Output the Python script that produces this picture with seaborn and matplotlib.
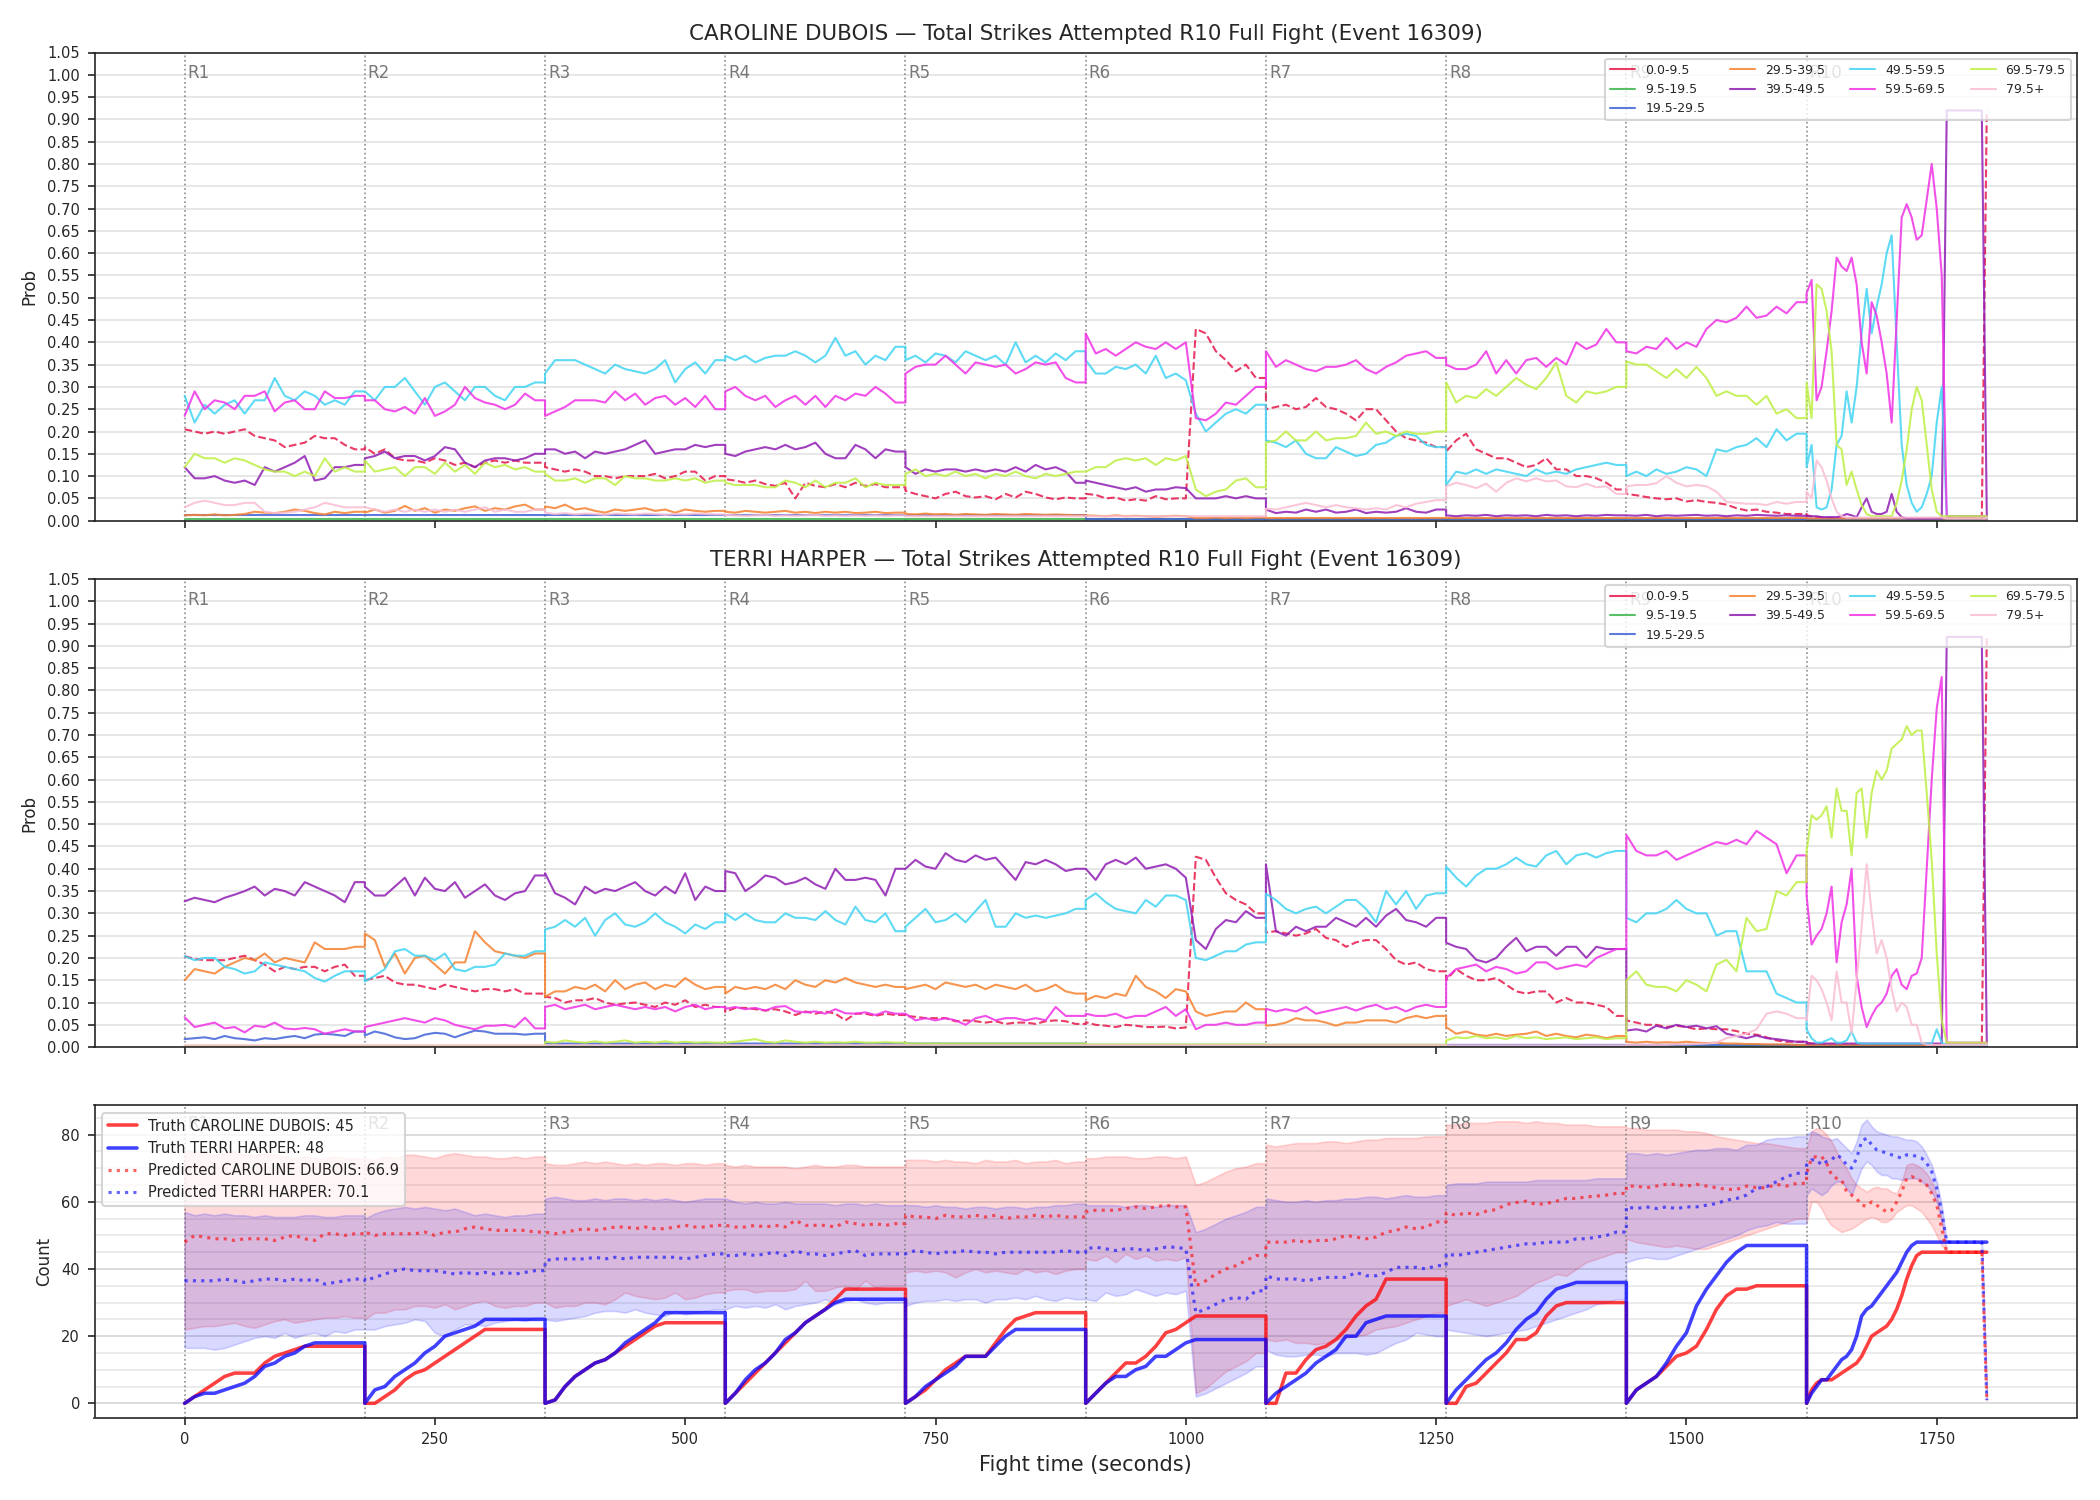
"""
Total strikes attempted - live prediction plot (R10 full fight, event 16309)
"""

import numpy as np
import pandas as pd
import matplotlib
matplotlib.use("Agg")
import matplotlib.pyplot as plt
import matplotlib.transforms as mtransforms
from matplotlib.lines import Line2D
from matplotlib.ticker import MultipleLocator
import seaborn as sns

sns.set_style("ticks")
plt.rcParams['font.family'] = ['DejaVu Sans']

# sample times: every 10 s in R1-R9, every 5 s in R10
times = np.concatenate([np.arange(0, 1620, 10), np.arange(1620, 1801, 5)])
round_starts = [0, 180, 360, 540, 720, 900, 1080, 1260, 1440, 1620]

bin_labels = ['0.0-9.5', '9.5-19.5', '19.5-29.5', '29.5-39.5', '39.5-49.5',
              '49.5-59.5', '59.5-69.5', '69.5-79.5', '79.5+']
bin_colors = ['#e6194B', '#3cb44b', '#4363d8', '#f58231', '#911eb4',
              '#42d4f4', '#f032e6', '#bfef45', '#fabed4']


def rounds(*rows):
    out = []
    for r in rows:
        out += list(r)
    return out


# ---------------- CAROLINE DUBOIS bin probabilities ----------------
cd_red = rounds(
    [0.205, 0.20, 0.195, 0.20, 0.195, 0.20, 0.205, 0.19, 0.185, 0.18, 0.165, 0.17, 0.175, 0.19, 0.185, 0.185, 0.17, 0.16],
    [0.165, 0.15, 0.16, 0.14, 0.135, 0.135, 0.13, 0.14, 0.135, 0.125, 0.13, 0.12, 0.13, 0.135, 0.13, 0.135, 0.13, 0.13],
    [0.12, 0.115, 0.11, 0.115, 0.11, 0.10, 0.10, 0.095, 0.10, 0.10, 0.10, 0.105, 0.095, 0.10, 0.11, 0.11, 0.09, 0.10],
    [0.093, 0.09, 0.085, 0.09, 0.082, 0.078, 0.085, 0.05, 0.085, 0.078, 0.075, 0.082, 0.075, 0.085, 0.078, 0.082, 0.075, 0.075],
    [0.067, 0.06, 0.055, 0.05, 0.06, 0.065, 0.055, 0.052, 0.055, 0.048, 0.06, 0.052, 0.065, 0.06, 0.052, 0.048, 0.052, 0.05],
    [0.06, 0.058, 0.05, 0.052, 0.045, 0.048, 0.045, 0.055, 0.048, 0.05, 0.05, 0.43, 0.42, 0.38, 0.36, 0.335, 0.35, 0.32],
    [0.25, 0.255, 0.26, 0.25, 0.255, 0.275, 0.255, 0.25, 0.24, 0.225, 0.25, 0.25, 0.225, 0.20, 0.185, 0.18, 0.175, 0.165],
    [0.155, 0.18, 0.195, 0.16, 0.15, 0.14, 0.14, 0.13, 0.12, 0.125, 0.14, 0.115, 0.115, 0.10, 0.10, 0.095, 0.085, 0.07],
    [0.06, 0.057, 0.053, 0.05, 0.048, 0.05, 0.043, 0.046, 0.042, 0.04, 0.036, 0.028, 0.023, 0.025, 0.02, 0.018, 0.015, 0.015],
    [0.012, 0.01, 0.008, 0.008, 0.006, 0.006, 0.005, 0.005, 0.005, 0.005, 0.005] + [0.004] * 17 + [0.005] * 8 + [0.92],
)
cd_green = [0.003] * 162 + [0.002] * 37
cd_blue = [0.012] * 90 + [0.004] * 72 + [0.003] * 37
cd_orange = rounds(
    [0.012, 0.013, 0.012, 0.014, 0.012, 0.013, 0.015, 0.02, 0.018, 0.017, 0.02, 0.025, 0.022, 0.017, 0.014, 0.02, 0.017, 0.02],
    [0.018, 0.025, 0.018, 0.022, 0.033, 0.022, 0.028, 0.018, 0.025, 0.022, 0.028, 0.032, 0.022, 0.028, 0.025, 0.032, 0.036, 0.025],
    [0.032, 0.028, 0.036, 0.025, 0.028, 0.022, 0.018, 0.025, 0.022, 0.025, 0.028, 0.022, 0.025, 0.018, 0.025, 0.022, 0.02, 0.022],
    [0.02, 0.018, 0.022, 0.02, 0.018, 0.02, 0.022, 0.018, 0.02, 0.017, 0.02, 0.018, 0.02, 0.017, 0.018, 0.02, 0.017, 0.018],
    [0.015, 0.014, 0.016, 0.014, 0.015, 0.013, 0.015, 0.014, 0.013, 0.015, 0.014, 0.013, 0.015, 0.014, 0.013, 0.014, 0.013, 0.012],
    [0.012, 0.011, 0.01, 0.012, 0.01, 0.011, 0.01, 0.009, 0.01, 0.011, 0.01, 0.006, 0.006, 0.007, 0.006, 0.007, 0.006, 0.007],
    [0.006] * 54,
    [0.005] * 37,
)
cd_purple = rounds(
    [0.12, 0.095, 0.095, 0.10, 0.09, 0.085, 0.09, 0.08, 0.12, 0.11, 0.12, 0.13, 0.145, 0.09, 0.095, 0.12, 0.12, 0.125],
    [0.14, 0.145, 0.155, 0.14, 0.145, 0.145, 0.135, 0.145, 0.165, 0.16, 0.13, 0.12, 0.135, 0.14, 0.14, 0.135, 0.14, 0.15],
    [0.16, 0.16, 0.15, 0.155, 0.14, 0.155, 0.15, 0.155, 0.16, 0.17, 0.18, 0.15, 0.155, 0.16, 0.16, 0.17, 0.165, 0.17],
    [0.15, 0.145, 0.155, 0.16, 0.165, 0.16, 0.17, 0.16, 0.165, 0.175, 0.15, 0.14, 0.14, 0.17, 0.16, 0.14, 0.16, 0.155],
    [0.12, 0.105, 0.115, 0.11, 0.115, 0.115, 0.11, 0.115, 0.11, 0.115, 0.11, 0.12, 0.11, 0.125, 0.115, 0.12, 0.11, 0.085],
    [0.09, 0.085, 0.08, 0.075, 0.07, 0.075, 0.065, 0.07, 0.07, 0.075, 0.073, 0.05, 0.05, 0.05, 0.055, 0.05, 0.055, 0.05],
    [0.025, 0.017, 0.02, 0.018, 0.025, 0.02, 0.025, 0.018, 0.02, 0.025, 0.017, 0.02, 0.018, 0.02, 0.028, 0.02, 0.018, 0.025],
    [0.012, 0.01, 0.012, 0.011, 0.013, 0.01, 0.012, 0.011, 0.012, 0.01, 0.013, 0.011, 0.012, 0.01, 0.012, 0.011, 0.013, 0.012],
    [0.012, 0.011, 0.013, 0.01, 0.012, 0.011, 0.012, 0.013, 0.011, 0.012, 0.01, 0.012, 0.011, 0.013, 0.012, 0.011, 0.012, 0.011],
    [0.01, 0.01, 0.01, 0.008, 0.008, 0.008, 0.008, 0.01, 0.015, 0.012, 0.008, 0.03, 0.05, 0.02, 0.015, 0.015, 0.02, 0.06,
     0.02, 0.008, 0.005, 0.005, 0.005, 0.005, 0.005, 0.005, 0.005, 0.005] + [0.92] * 8 + [0.01],
)
cd_cyan = rounds(
    [0.28, 0.22, 0.26, 0.24, 0.26, 0.27, 0.24, 0.27, 0.27, 0.32, 0.28, 0.27, 0.29, 0.28, 0.26, 0.27, 0.26, 0.29],
    [0.29, 0.27, 0.30, 0.30, 0.32, 0.29, 0.26, 0.30, 0.31, 0.29, 0.27, 0.30, 0.30, 0.28, 0.27, 0.30, 0.30, 0.31],
    [0.33, 0.36, 0.36, 0.36, 0.35, 0.34, 0.33, 0.35, 0.34, 0.335, 0.33, 0.34, 0.36, 0.31, 0.34, 0.355, 0.33, 0.36],
    [0.37, 0.36, 0.37, 0.355, 0.365, 0.37, 0.37, 0.38, 0.37, 0.355, 0.37, 0.41, 0.37, 0.38, 0.35, 0.37, 0.36, 0.39],
    [0.36, 0.37, 0.355, 0.375, 0.37, 0.355, 0.38, 0.37, 0.36, 0.37, 0.35, 0.40, 0.355, 0.37, 0.355, 0.375, 0.36, 0.38],
    [0.36, 0.33, 0.33, 0.345, 0.34, 0.35, 0.33, 0.37, 0.32, 0.33, 0.315, 0.24, 0.20, 0.22, 0.24, 0.25, 0.24, 0.26],
    [0.18, 0.175, 0.165, 0.18, 0.15, 0.14, 0.14, 0.165, 0.155, 0.145, 0.15, 0.17, 0.175, 0.19, 0.195, 0.19, 0.17, 0.165],
    [0.08, 0.11, 0.105, 0.115, 0.105, 0.115, 0.11, 0.105, 0.10, 0.115, 0.105, 0.11, 0.105, 0.115, 0.12, 0.125, 0.13, 0.125],
    [0.10, 0.11, 0.10, 0.115, 0.105, 0.11, 0.12, 0.115, 0.10, 0.16, 0.155, 0.165, 0.17, 0.185, 0.165, 0.205, 0.18, 0.195],
    [0.12, 0.17, 0.03, 0.025, 0.03, 0.07, 0.17, 0.19, 0.29, 0.22, 0.30, 0.42, 0.52, 0.42, 0.48, 0.53, 0.60, 0.64,
     0.40, 0.17, 0.08, 0.04, 0.02, 0.03, 0.06, 0.10, 0.22, 0.30] + [0.01] * 9,
)
cd_magenta = rounds(
    [0.235, 0.29, 0.25, 0.27, 0.265, 0.25, 0.28, 0.28, 0.29, 0.245, 0.265, 0.27, 0.25, 0.25, 0.29, 0.275, 0.275, 0.28],
    [0.27, 0.27, 0.25, 0.245, 0.255, 0.24, 0.275, 0.235, 0.245, 0.26, 0.30, 0.275, 0.265, 0.26, 0.25, 0.26, 0.285, 0.27],
    [0.235, 0.245, 0.255, 0.27, 0.27, 0.27, 0.265, 0.29, 0.27, 0.285, 0.26, 0.275, 0.28, 0.26, 0.275, 0.255, 0.28, 0.25],
    [0.29, 0.30, 0.28, 0.27, 0.28, 0.255, 0.27, 0.28, 0.26, 0.28, 0.255, 0.28, 0.27, 0.285, 0.28, 0.30, 0.285, 0.265],
    [0.33, 0.345, 0.35, 0.35, 0.37, 0.35, 0.33, 0.355, 0.35, 0.345, 0.35, 0.33, 0.34, 0.355, 0.35, 0.355, 0.32, 0.31],
    [0.42, 0.375, 0.385, 0.37, 0.385, 0.40, 0.39, 0.385, 0.40, 0.385, 0.40, 0.23, 0.225, 0.24, 0.265, 0.26, 0.28, 0.30],
    [0.38, 0.345, 0.36, 0.35, 0.34, 0.335, 0.345, 0.345, 0.35, 0.36, 0.34, 0.33, 0.345, 0.355, 0.37, 0.375, 0.38, 0.365],
    [0.35, 0.34, 0.34, 0.35, 0.38, 0.33, 0.36, 0.33, 0.36, 0.365, 0.345, 0.365, 0.35, 0.40, 0.385, 0.395, 0.43, 0.40],
    [0.38, 0.375, 0.39, 0.385, 0.41, 0.385, 0.40, 0.39, 0.43, 0.45, 0.445, 0.455, 0.48, 0.455, 0.46, 0.48, 0.465, 0.49],
    [0.51, 0.54, 0.27, 0.30, 0.38, 0.47, 0.59, 0.57, 0.56, 0.59, 0.53, 0.40, 0.33, 0.49, 0.46, 0.40, 0.33, 0.22,
     0.45, 0.68, 0.71, 0.68, 0.63, 0.64, 0.72, 0.80, 0.70, 0.55] + [0.01] * 9,
)
cd_lime = rounds(
    [0.12, 0.15, 0.14, 0.14, 0.13, 0.14, 0.135, 0.125, 0.115, 0.11, 0.11, 0.10, 0.11, 0.10, 0.14, 0.11, 0.12, 0.11],
    [0.135, 0.11, 0.115, 0.12, 0.10, 0.12, 0.12, 0.105, 0.13, 0.11, 0.125, 0.105, 0.13, 0.12, 0.125, 0.115, 0.12, 0.11],
    [0.105, 0.09, 0.09, 0.095, 0.085, 0.095, 0.095, 0.08, 0.10, 0.095, 0.095, 0.09, 0.09, 0.095, 0.09, 0.095, 0.085, 0.09],
    [0.085, 0.08, 0.08, 0.08, 0.075, 0.075, 0.09, 0.085, 0.075, 0.09, 0.075, 0.085, 0.085, 0.095, 0.075, 0.085, 0.08, 0.08],
    [0.105, 0.115, 0.10, 0.105, 0.10, 0.11, 0.10, 0.105, 0.095, 0.105, 0.10, 0.11, 0.10, 0.095, 0.105, 0.10, 0.105, 0.11],
    [0.11, 0.12, 0.12, 0.135, 0.14, 0.135, 0.14, 0.125, 0.14, 0.135, 0.145, 0.07, 0.055, 0.065, 0.07, 0.09, 0.095, 0.075],
    [0.175, 0.18, 0.20, 0.18, 0.18, 0.20, 0.18, 0.185, 0.185, 0.19, 0.22, 0.195, 0.20, 0.19, 0.20, 0.195, 0.195, 0.20],
    [0.31, 0.265, 0.28, 0.275, 0.295, 0.28, 0.30, 0.32, 0.305, 0.295, 0.32, 0.355, 0.28, 0.265, 0.29, 0.285, 0.29, 0.30],
    [0.357, 0.35, 0.35, 0.335, 0.32, 0.34, 0.32, 0.345, 0.32, 0.28, 0.29, 0.28, 0.28, 0.26, 0.28, 0.24, 0.25, 0.23],
    [0.31, 0.23, 0.53, 0.52, 0.47, 0.38, 0.17, 0.16, 0.08, 0.11, 0.07, 0.035, 0.015, 0.01, 0.01, 0.01, 0.01, 0.01,
     0.04, 0.09, 0.16, 0.25, 0.30, 0.27, 0.17, 0.07, 0.02, 0.01] + [0.01] * 9,
)
cd_pink = rounds(
    [0.03, 0.04, 0.045, 0.04, 0.035, 0.035, 0.04, 0.04, 0.02, 0.017, 0.018, 0.02, 0.025, 0.03, 0.04, 0.035, 0.03, 0.03],
    [0.03, 0.025, 0.02, 0.025, 0.02, 0.025, 0.02, 0.025, 0.02, 0.025, 0.02, 0.025, 0.03, 0.02, 0.025, 0.02, 0.02, 0.025],
    [0.018, 0.015, 0.017, 0.014, 0.016, 0.015, 0.013, 0.016, 0.015, 0.014, 0.016, 0.015, 0.013, 0.015, 0.014, 0.016, 0.015, 0.014],
    [0.013, 0.012, 0.011, 0.012, 0.013, 0.011, 0.012, 0.011, 0.012, 0.013, 0.011, 0.012, 0.011, 0.012, 0.011, 0.012, 0.011, 0.012],
    [0.01] * 18,
    [0.01] * 18,
    [0.027, 0.025, 0.03, 0.035, 0.04, 0.035, 0.03, 0.035, 0.03, 0.028, 0.025, 0.028, 0.025, 0.035, 0.03, 0.038, 0.042, 0.046],
    [0.077, 0.085, 0.08, 0.073, 0.083, 0.065, 0.085, 0.095, 0.088, 0.095, 0.088, 0.09, 0.077, 0.075, 0.083, 0.075, 0.077, 0.06],
    [0.077, 0.08, 0.08, 0.084, 0.10, 0.085, 0.077, 0.08, 0.077, 0.065, 0.042, 0.04, 0.038, 0.038, 0.035, 0.042, 0.038, 0.042],
    [0.065, 0.05, 0.135, 0.12, 0.09, 0.05, 0.02, 0.01] + [0.007] * 20 + [0.005] * 9,
)

# ---------------- TERRI HARPER bin probabilities ----------------
th_red = rounds(
    [0.204, 0.198, 0.195, 0.195, 0.195, 0.20, 0.205, 0.195, 0.185, 0.17, 0.18, 0.175, 0.18, 0.18, 0.17, 0.18, 0.185, 0.16],
    [0.15, 0.155, 0.16, 0.145, 0.14, 0.14, 0.135, 0.13, 0.14, 0.135, 0.13, 0.125, 0.13, 0.13, 0.125, 0.13, 0.12, 0.12],
    [0.113, 0.11, 0.10, 0.105, 0.105, 0.11, 0.10, 0.095, 0.098, 0.10, 0.095, 0.09, 0.10, 0.095, 0.105, 0.09, 0.095, 0.09],
    [0.079, 0.088, 0.088, 0.085, 0.082, 0.085, 0.08, 0.072, 0.08, 0.075, 0.08, 0.075, 0.06, 0.075, 0.075, 0.07, 0.075, 0.072],
    [0.07, 0.068, 0.065, 0.065, 0.065, 0.058, 0.06, 0.058, 0.055, 0.058, 0.052, 0.055, 0.055, 0.052, 0.058, 0.06, 0.058, 0.052],
    [0.056, 0.05, 0.048, 0.045, 0.05, 0.048, 0.045, 0.045, 0.046, 0.042, 0.044, 0.427, 0.42, 0.38, 0.345, 0.33, 0.32, 0.30],
    [0.257, 0.26, 0.255, 0.25, 0.255, 0.265, 0.245, 0.24, 0.225, 0.235, 0.24, 0.24, 0.22, 0.195, 0.185, 0.19, 0.175, 0.17],
    [0.15, 0.175, 0.16, 0.15, 0.15, 0.155, 0.14, 0.125, 0.12, 0.125, 0.125, 0.10, 0.11, 0.10, 0.10, 0.095, 0.09, 0.07],
    [0.06, 0.055, 0.05, 0.05, 0.045, 0.048, 0.045, 0.04, 0.042, 0.04, 0.04, 0.036, 0.03, 0.028, 0.022, 0.015, 0.012, 0.012],
    [0.01, 0.008, 0.007, 0.006, 0.006, 0.005] + [0.004] * 22 + [0.005] * 8 + [0.92],
)
th_green = [0.003] * 199
th_blue = rounds(
    [0.018, 0.02, 0.022, 0.018, 0.025, 0.02, 0.018, 0.015, 0.02, 0.018, 0.022, 0.025, 0.02, 0.028, 0.03, 0.028, 0.025, 0.035],
    [0.026, 0.035, 0.03, 0.022, 0.018, 0.02, 0.028, 0.032, 0.03, 0.022, 0.03, 0.037, 0.035, 0.03, 0.03, 0.03, 0.028, 0.03],
    [0.008] * 54,
    [0.005] * 72,
    [0.003] * 37,
)
th_orange = rounds(
    [0.15, 0.175, 0.17, 0.165, 0.18, 0.19, 0.20, 0.195, 0.21, 0.19, 0.20, 0.195, 0.19, 0.235, 0.22, 0.22, 0.22, 0.225],
    [0.255, 0.24, 0.18, 0.21, 0.165, 0.20, 0.205, 0.185, 0.165, 0.19, 0.19, 0.26, 0.235, 0.215, 0.21, 0.205, 0.20, 0.21],
    [0.113, 0.125, 0.125, 0.135, 0.13, 0.14, 0.125, 0.15, 0.13, 0.14, 0.145, 0.13, 0.14, 0.135, 0.155, 0.14, 0.13, 0.135],
    [0.12, 0.135, 0.13, 0.135, 0.13, 0.14, 0.13, 0.15, 0.14, 0.135, 0.15, 0.145, 0.155, 0.145, 0.14, 0.135, 0.14, 0.135],
    [0.13, 0.135, 0.14, 0.13, 0.145, 0.14, 0.135, 0.14, 0.13, 0.14, 0.135, 0.13, 0.14, 0.125, 0.13, 0.14, 0.125, 0.12],
    [0.105, 0.115, 0.11, 0.12, 0.115, 0.16, 0.135, 0.125, 0.11, 0.13, 0.125, 0.08, 0.07, 0.075, 0.08, 0.08, 0.10, 0.085],
    [0.048, 0.05, 0.055, 0.065, 0.06, 0.06, 0.055, 0.048, 0.055, 0.055, 0.06, 0.06, 0.06, 0.055, 0.065, 0.07, 0.065, 0.07],
    [0.045, 0.03, 0.035, 0.028, 0.025, 0.03, 0.025, 0.028, 0.03, 0.035, 0.025, 0.03, 0.025, 0.022, 0.028, 0.025, 0.02, 0.025],
    [0.012, 0.01, 0.012, 0.01, 0.011, 0.01, 0.012, 0.01, 0.009, 0.01, 0.008, 0.008, 0.007, 0.007, 0.006, 0.006, 0.006, 0.005],
    [0.005] * 37,
)
th_purple = rounds(
    [0.327, 0.335, 0.33, 0.325, 0.335, 0.342, 0.35, 0.36, 0.34, 0.355, 0.35, 0.34, 0.37, 0.36, 0.35, 0.34, 0.325, 0.37],
    [0.36, 0.34, 0.34, 0.36, 0.38, 0.34, 0.38, 0.355, 0.35, 0.37, 0.335, 0.35, 0.365, 0.34, 0.33, 0.345, 0.35, 0.385],
    [0.39, 0.345, 0.335, 0.32, 0.36, 0.345, 0.355, 0.35, 0.36, 0.37, 0.35, 0.34, 0.36, 0.345, 0.39, 0.33, 0.36, 0.35],
    [0.395, 0.39, 0.35, 0.365, 0.385, 0.38, 0.365, 0.37, 0.38, 0.365, 0.355, 0.40, 0.375, 0.375, 0.38, 0.375, 0.34, 0.40],
    [0.40, 0.42, 0.405, 0.40, 0.435, 0.42, 0.415, 0.43, 0.42, 0.425, 0.40, 0.375, 0.415, 0.41, 0.42, 0.41, 0.395, 0.40],
    [0.40, 0.375, 0.41, 0.42, 0.41, 0.425, 0.40, 0.405, 0.41, 0.40, 0.38, 0.24, 0.22, 0.265, 0.285, 0.28, 0.305, 0.29],
    [0.41, 0.26, 0.25, 0.27, 0.26, 0.27, 0.27, 0.29, 0.28, 0.27, 0.29, 0.27, 0.295, 0.31, 0.285, 0.28, 0.27, 0.29],
    [0.234, 0.225, 0.22, 0.196, 0.19, 0.20, 0.225, 0.245, 0.215, 0.225, 0.225, 0.205, 0.225, 0.225, 0.20, 0.225, 0.22, 0.22],
    [0.037, 0.04, 0.035, 0.048, 0.042, 0.05, 0.045, 0.048, 0.042, 0.047, 0.03, 0.025, 0.02, 0.026, 0.02, 0.018, 0.015, 0.012],
    [0.008] * 28 + [0.92] * 8 + [0.01],
)
th_cyan = rounds(
    [0.204, 0.195, 0.20, 0.20, 0.18, 0.175, 0.165, 0.17, 0.19, 0.185, 0.18, 0.175, 0.17, 0.155, 0.147, 0.16, 0.17, 0.17],
    [0.147, 0.16, 0.175, 0.215, 0.22, 0.205, 0.205, 0.195, 0.21, 0.175, 0.17, 0.18, 0.18, 0.185, 0.21, 0.205, 0.205, 0.215],
    [0.264, 0.27, 0.285, 0.27, 0.29, 0.25, 0.285, 0.30, 0.275, 0.27, 0.28, 0.30, 0.28, 0.27, 0.255, 0.275, 0.265, 0.28],
    [0.30, 0.285, 0.30, 0.285, 0.28, 0.28, 0.30, 0.29, 0.29, 0.285, 0.305, 0.285, 0.275, 0.315, 0.285, 0.28, 0.30, 0.26],
    [0.27, 0.29, 0.31, 0.28, 0.285, 0.30, 0.28, 0.305, 0.33, 0.27, 0.27, 0.30, 0.29, 0.295, 0.29, 0.295, 0.30, 0.31],
    [0.33, 0.345, 0.325, 0.31, 0.305, 0.30, 0.33, 0.315, 0.34, 0.34, 0.33, 0.20, 0.195, 0.205, 0.215, 0.215, 0.23, 0.235],
    [0.344, 0.33, 0.31, 0.30, 0.31, 0.315, 0.30, 0.315, 0.33, 0.33, 0.31, 0.28, 0.35, 0.32, 0.35, 0.31, 0.34, 0.345],
    [0.405, 0.38, 0.36, 0.385, 0.40, 0.40, 0.41, 0.425, 0.41, 0.405, 0.43, 0.44, 0.41, 0.43, 0.435, 0.425, 0.435, 0.44],
    [0.29, 0.28, 0.30, 0.30, 0.31, 0.33, 0.31, 0.30, 0.30, 0.25, 0.26, 0.26, 0.17, 0.17, 0.17, 0.12, 0.11, 0.10],
    [0.04, 0.02, 0.01, 0.01, 0.015, 0.02, 0.01, 0.01, 0.015, 0.035, 0.01] + [0.008] * 15 + [0.04, 0.01] + [0.005] * 9,
)
th_magenta = rounds(
    [0.067, 0.045, 0.05, 0.055, 0.042, 0.045, 0.033, 0.048, 0.045, 0.055, 0.042, 0.04, 0.043, 0.04, 0.03, 0.035, 0.04, 0.035],
    [0.045, 0.05, 0.055, 0.06, 0.065, 0.06, 0.055, 0.065, 0.06, 0.05, 0.045, 0.04, 0.048, 0.048, 0.05, 0.045, 0.066, 0.042],
    [0.09, 0.095, 0.085, 0.09, 0.095, 0.085, 0.09, 0.095, 0.09, 0.085, 0.09, 0.085, 0.09, 0.08, 0.09, 0.095, 0.085, 0.09],
    [0.086, 0.09, 0.085, 0.088, 0.082, 0.09, 0.092, 0.08, 0.078, 0.08, 0.075, 0.085, 0.076, 0.075, 0.078, 0.072, 0.08, 0.075],
    [0.075, 0.06, 0.065, 0.06, 0.065, 0.06, 0.05, 0.065, 0.07, 0.06, 0.065, 0.065, 0.06, 0.065, 0.06, 0.09, 0.07, 0.07],
    [0.075, 0.07, 0.07, 0.075, 0.065, 0.07, 0.07, 0.08, 0.09, 0.07, 0.085, 0.04, 0.05, 0.05, 0.055, 0.05, 0.05, 0.055],
    [0.086, 0.08, 0.085, 0.08, 0.09, 0.075, 0.08, 0.085, 0.09, 0.082, 0.09, 0.095, 0.085, 0.09, 0.08, 0.09, 0.095, 0.09],
    [0.155, 0.175, 0.18, 0.185, 0.17, 0.18, 0.175, 0.165, 0.17, 0.19, 0.19, 0.175, 0.18, 0.185, 0.18, 0.20, 0.21, 0.22],
    [0.476, 0.44, 0.43, 0.43, 0.44, 0.42, 0.43, 0.44, 0.45, 0.46, 0.455, 0.465, 0.455, 0.485, 0.47, 0.455, 0.39, 0.43],
    [0.34, 0.23, 0.25, 0.265, 0.30, 0.36, 0.19, 0.28, 0.32, 0.40, 0.16, 0.09, 0.045, 0.07, 0.09, 0.10, 0.12, 0.16,
     0.175, 0.14, 0.13, 0.16, 0.165, 0.20, 0.40, 0.60, 0.76, 0.83] + [0.01] * 9,
)
th_lime = rounds(
    [0.003] * 36,
    [0.012, 0.01, 0.015, 0.012, 0.01, 0.013, 0.01, 0.012, 0.015, 0.01, 0.012, 0.01, 0.013, 0.01, 0.012, 0.01, 0.011, 0.01],
    [0.01, 0.012, 0.015, 0.018, 0.012, 0.01, 0.015, 0.012, 0.01, 0.012, 0.01, 0.011, 0.01, 0.012, 0.01, 0.01, 0.011, 0.01],
    [0.008] * 18,
    [0.006] * 18,
    [0.005] * 18,
    [0.015, 0.022, 0.02, 0.025, 0.02, 0.022, 0.018, 0.025, 0.02, 0.022, 0.018, 0.02, 0.022, 0.018, 0.02, 0.022, 0.018, 0.02],
    [0.15, 0.17, 0.14, 0.135, 0.135, 0.125, 0.15, 0.14, 0.125, 0.185, 0.196, 0.17, 0.29, 0.26, 0.265, 0.35, 0.34, 0.37],
    [0.44, 0.52, 0.51, 0.52, 0.54, 0.47, 0.58, 0.53, 0.53, 0.43, 0.57, 0.58, 0.47, 0.57, 0.62, 0.60, 0.62, 0.67,
     0.68, 0.69, 0.72, 0.70, 0.71, 0.71, 0.57, 0.42, 0.21, 0.06] + [0.01] * 9,
)
th_pink = rounds(
    [0.004] * 144,
    [0.005, 0.005, 0.005, 0.005, 0.005, 0.006, 0.006, 0.007, 0.008, 0.01, 0.02, 0.025, 0.03, 0.04, 0.075, 0.08, 0.075, 0.065],
    [0.06, 0.16, 0.15, 0.13, 0.10, 0.06, 0.17, 0.10, 0.10, 0.03, 0.15, 0.27, 0.41, 0.30, 0.21, 0.24, 0.20, 0.13,
     0.08, 0.10, 0.09, 0.05, 0.05, 0.01, 0.005, 0.005, 0.005, 0.005] + [0.005] * 9,
)

# ---------------- counts (bottom panel) ----------------
truth_cd = rounds(
    [0, 2, 4, 6, 8, 9, 9, 9, 12, 14, 15, 16, 17, 17, 17, 17, 17, 17],
    [0, 0, 2, 4, 7, 9, 10, 12, 14, 16, 18, 20, 22, 22, 22, 22, 22, 22],
    [0, 1, 5, 8, 10, 12, 13, 15, 17, 19, 21, 23, 24, 24, 24, 24, 24, 24],
    [0, 3, 6, 9, 12, 15, 18, 21, 24, 26, 28, 31, 34, 34, 34, 34, 34, 34],
    [0, 2, 4, 7, 10, 12, 14, 14, 14, 18, 22, 25, 26, 27, 27, 27, 27, 27],
    [0, 3, 6, 9, 12, 12, 14, 17, 21, 22, 24, 26, 26, 26, 26, 26, 26, 26],
    [0, 0, 9, 9, 13, 16, 17, 19, 22, 26, 29, 31, 37, 37, 37, 37, 37, 37],
    [0, 0, 5, 6, 9, 12, 15, 19, 19, 21, 26, 29, 30, 30, 30, 30, 30, 30],
    [0, 4, 6, 8, 11, 14, 15, 17, 22, 28, 32, 34, 34, 35, 35, 35, 35, 35],
    [0, 4, 6, 7, 7, 7, 8, 9, 10, 11, 12, 14, 17, 20, 21, 22, 23, 25, 28, 32, 37, 41, 44, 45] + [45] * 13,
)
truth_th = rounds(
    [0, 2, 3, 3, 4, 5, 6, 8, 11, 12, 14, 15, 17, 18, 18, 18, 18, 18],
    [0, 4, 5, 8, 10, 12, 15, 17, 20, 21, 22, 23, 25, 25, 25, 25, 25, 25],
    [0, 1, 5, 8, 10, 12, 13, 15, 18, 20, 22, 24, 27, 27, 27, 27, 27, 27],
    [0, 3, 7, 10, 12, 15, 19, 21, 24, 26, 28, 30, 31, 31, 31, 31, 31, 31],
    [0, 2, 5, 7, 9, 11, 14, 14, 14, 17, 20, 22, 22, 22, 22, 22, 22, 22],
    [0, 3, 6, 8, 8, 10, 11, 14, 14, 16, 18, 19, 19, 19, 19, 19, 19, 19],
    [0, 3, 5, 7, 9, 12, 14, 16, 20, 20, 24, 25, 26, 26, 26, 26, 26, 26],
    [0, 4, 7, 10, 13, 15, 18, 22, 25, 27, 31, 34, 35, 36, 36, 36, 36, 36],
    [0, 4, 6, 8, 12, 17, 21, 29, 34, 38, 42, 45, 47, 47, 47, 47, 47, 47],
    [0, 3, 5, 7, 7, 9, 11, 13, 14, 16, 20, 26, 28, 29, 31, 33, 35, 37, 39, 42, 45, 47, 48] + [48] * 14,
)
pred_cd = rounds(
    [48, 50, 49.5, 49, 49, 48.5, 49, 49, 49, 48.5, 49.5, 50, 49, 48.5, 50.5, 50.5, 50, 50.5],
    [51, 50, 50.5, 50.5, 50.5, 50.5, 51, 50, 51, 51, 52, 52.5, 52, 51.5, 51.5, 51.5, 51.5, 51],
    [51, 50.5, 51, 51.5, 52, 51.5, 52, 52.5, 52.5, 52, 52.5, 52, 52, 52.5, 53, 52.5, 52.5, 53],
    [53, 52.5, 52.5, 53, 52.5, 53, 52.5, 54.5, 53, 53, 53, 52.5, 54, 53.5, 53, 53.5, 53, 53.5],
    [56, 55.5, 55.5, 55, 56, 55.5, 55.5, 56, 55.5, 56, 55, 55.5, 55.5, 56, 55.5, 56, 55.5, 55.5],
    [57, 57.5, 57.5, 57.5, 58, 58.5, 58, 58.5, 59, 58.5, 58.5, 35, 36.5, 38.5, 40, 41, 42.5, 44],
    [48, 48, 48, 48.5, 48, 48.5, 48.5, 49, 50, 49.5, 49, 49.5, 51, 51.5, 52.5, 52, 52.5, 54],
    [56.7, 56, 56.7, 56.2, 57.2, 57.7, 59.2, 59.8, 60.2, 59.2, 59.5, 60.2, 61, 61, 61.5, 61.7, 62, 62.5],
    [64.7, 64.7, 64.2, 64.7, 65.2, 65.2, 64.7, 65.2, 64.7, 64.2, 63.7, 63.7, 64.7, 64.2, 64.2, 65.2, 64.7, 65.5],
    [68.5, 73, 73.5, 73.5, 71.5, 68, 67, 66.5, 63, 62, 61, 59, 58.7, 60, 59, 58, 57, 57.5,
     60, 63, 67, 67.5, 67, 66, 65, 62.5, 59, 52] + [45] * 8 + [1],
)
pred_th = rounds(
    [36.5, 36.5, 36.5, 36.5, 37, 36.5, 36, 36.5, 37, 37, 36.5, 37, 36.5, 37, 35.5, 36, 36.5, 37],
    [36.5, 37.5, 38.5, 39.5, 40, 39.5, 39.5, 39.5, 39, 38.5, 39, 38.5, 39, 38.5, 39, 38.5, 39, 39.5],
    [42.5, 43, 43, 43, 43, 43.5, 43, 43.5, 43, 43.5, 43.5, 43.5, 43.5, 43.5, 43, 43.5, 44, 44.5],
    [44, 44, 44.5, 44, 44.5, 45, 44, 45.5, 44.5, 44.5, 44, 44.5, 45, 45.5, 44, 44.5, 44.5, 44.5],
    [44.5, 45.5, 45, 44.5, 45, 45, 45.5, 45, 45, 44.5, 45, 45, 45, 45, 45, 45, 45.5, 45],
    [46, 46.5, 46, 45.5, 46, 46, 45.5, 46, 46.5, 46.5, 46, 27, 28, 29.5, 31, 31.5, 31, 33.5],
    [38, 37, 37, 37, 36.5, 37, 37.5, 37.5, 37.5, 39, 38, 38, 39, 40.5, 40.5, 40.5, 40, 41],
    [44.5, 44, 44.5, 45, 45.5, 46, 46.5, 47, 47.5, 47.5, 48, 48, 48, 49, 49, 49.5, 50, 51],
    [58.5, 58, 58.5, 58, 58.5, 58, 58.5, 58.5, 59, 59.5, 60.5, 61, 62, 64, 64.5, 66, 67.5, 68.5],
    [71, 72.5, 72.5, 71, 72, 72.5, 74, 73, 71, 70, 73, 78, 79, 77, 75.5, 75, 74.5, 74,
     73.5, 73, 74, 74, 73.5, 73, 71.5, 69, 64, 57] + [48] * 8 + [1],
)
hi_cd = rounds(
    [75, 75, 74.5, 74, 74.5, 75, 74, 74, 74.5, 74, 73.5, 73, 73.5, 73, 73, 73.5, 73, 73],
    [73, 72.5, 73.5, 73, 74, 74, 73.5, 73, 74, 74.5, 74, 73.5, 73.5, 73, 73, 73.5, 73, 73.5],
    [71.5, 71, 71, 71.5, 72, 71.5, 72, 71.5, 71, 71.5, 71, 71.5, 71.5, 71, 71.5, 71.5, 71, 71.5],
    [71, 70.5, 71, 70.5, 70.5, 70.5, 70.5, 70, 70.5, 71, 70.5, 70.5, 71, 71, 70.5, 70.5, 70.5, 70.5],
    [72.5, 72.5, 72.5, 72, 72.5, 72, 72, 71.5, 72.5, 72, 72, 72.5, 71.5, 72, 72, 72.5, 71.5, 72],
    [73, 73, 73.5, 73.5, 73.5, 73, 73, 73.5, 73.5, 73, 73.5, 65, 66, 67.5, 69, 70, 70.5, 71.5],
    [77, 76.5, 77, 77.5, 77.5, 77.5, 78, 78, 77.5, 78, 78.5, 78.5, 79, 79, 79, 79, 79.5, 79.5],
    [83, 83, 83.5, 83.5, 83.5, 84, 84, 84, 83.5, 84, 83.5, 83.5, 83, 83, 83, 82.5, 82.5, 82.5],
    [82, 82, 81.5, 81.5, 81.5, 81.5, 81, 81, 80.5, 79.5, 79, 78.5, 78, 77.5, 77.5, 77, 76.5, 76],
    [76, 81, 82, 81.5, 80, 78, 75, 72, 70, 67, 65, 64, 63, 64, 64.5, 64, 64, 63,
     62.5, 66, 71, 71.5, 71, 70, 68.5, 66, 62, 55] + [45] * 8 + [1],
)
lo_cd = rounds(
    [22, 22.5, 23, 23, 23.5, 24, 23, 22.5, 23.5, 24.5, 25, 24, 24.5, 25, 25.5, 25.5, 26, 25.5],
    [25, 27, 27, 28, 28, 29, 29, 28.5, 29.5, 28, 29, 30, 30.5, 29, 28.5, 29, 29, 30],
    [30, 28.5, 29, 29, 30, 30, 29.5, 31, 33, 32, 31.5, 31, 31.5, 33, 31, 31.5, 32.5, 33],
    [33.5, 34, 34, 33, 33.5, 33.5, 33.5, 34, 36.5, 33.5, 33.5, 34.5, 35, 34, 36.5, 34.5, 35, 35],
    [39, 39.5, 39, 39.5, 39, 37.5, 39, 40, 39, 39.5, 39, 38.5, 40, 39, 39.5, 38.5, 39.5, 40],
    [43, 42.5, 44, 42, 44.5, 43, 44, 42.5, 43, 42.5, 43.5, 3, 4.5, 7, 9.5, 11, 12.5, 15],
    [19, 18.5, 19, 18, 18, 17.5, 18, 19, 19.5, 20, 20.5, 22, 22.5, 23, 24, 25, 26, 27],
    [29, 30, 31, 30, 29, 30, 31, 32, 34, 36, 37, 38.5, 38, 40, 42, 43, 44, 45],
    [49, 48, 47.5, 47, 46.5, 47, 46.5, 46, 46, 47, 48, 49, 50, 51, 52, 53, 54, 55],
    [54, 60, 60, 58, 55, 53, 52, 51, 51.5, 52, 53, 54, 55, 55.5, 55, 54, 54, 55,
     57, 58, 59, 59, 58, 57, 55, 53, 50, 47] + [45] * 8 + [1],
)
hi_th = rounds(
    [57, 56, 56.5, 56, 56.5, 56, 56, 55.5, 56, 55.5, 55.5, 55.5, 56, 56, 55.5, 55.5, 56, 56],
    [55, 56.5, 57.5, 58, 58.5, 58, 58.5, 58, 57.5, 58, 57, 56, 56.5, 56, 55.5, 56, 56, 56.5],
    [61, 61.5, 61, 60.5, 60.5, 61, 60.5, 61, 61, 60.5, 61, 60.5, 61, 60.5, 60, 60.5, 61, 61],
    [61, 60, 59.5, 60, 59.5, 59.5, 60, 59.5, 59.5, 59.5, 59.5, 59, 59.5, 59.5, 59, 59.5, 59, 59],
    [59, 59, 58.5, 59, 58.5, 58.5, 58, 58.5, 58.5, 58, 58.5, 58.5, 58, 58.5, 58.5, 59, 59, 59.5],
    [59, 59, 59, 59, 58.5, 59, 59, 58.5, 59, 59, 59, 51, 52, 53.5, 55, 56, 57, 58.5],
    [61, 60.5, 60, 60, 60.5, 60, 60.5, 60.5, 61, 61, 61.5, 61.5, 61, 61.5, 62, 61.5, 61.5, 62],
    [65, 65.5, 65.5, 65.5, 66, 66, 66, 66, 66, 66.5, 66.5, 66.5, 66.5, 66.5, 66.5, 67, 67, 67],
    [74.5, 74.5, 74, 74.5, 74, 74.5, 75, 75.5, 75.5, 76, 76, 75.5, 77, 77, 78.5, 79, 79, 79.5],
    [80, 81, 80.5, 79.5, 79, 78.5, 79, 77.5, 76, 74.5, 78, 83, 84.5, 82.5, 81, 80.5, 80, 79.5,
     79.5, 79, 78.5, 78.5, 78, 76.5, 74, 71, 66, 59] + [48] * 8 + [1],
)
lo_th = rounds(
    [16.5, 16.5, 16.5, 16, 16.5, 17.5, 18.5, 19.5, 20, 19.5, 21, 19.5, 20.5, 21, 20, 21.5, 21, 22],
    [22, 22, 23, 23.5, 24, 25, 24.5, 21, 20, 22, 23.5, 23.5, 23, 24, 24.5, 25, 24.5, 25.5],
    [25, 24.5, 25, 25.5, 26, 27, 27.5, 27.5, 27, 28, 27, 26.5, 26, 27.5, 26.5, 27, 27.5, 28],
    [28, 29, 28.5, 29, 28.5, 29.5, 28, 29, 29.5, 30, 31, 29.5, 30.5, 31, 30, 29.5, 30, 30],
    [29, 30, 30.5, 30.5, 31, 30.5, 31, 31, 30, 31, 31, 31.5, 31, 32, 31, 30.5, 31.5, 31],
    [31, 30.5, 33, 32, 32.5, 34, 33, 32, 33, 32.5, 33.5, 2, 3, 4.5, 6, 7.5, 9, 11],
    [16, 14.5, 14, 14, 14.5, 14.5, 14, 15, 15, 15, 14.5, 15, 16.5, 18, 19, 21, 20.5, 20],
    [22, 21.5, 21, 20.5, 20, 20.5, 21, 21.5, 22, 23, 24, 25, 26, 27, 28, 29.5, 30, 31],
    [42, 43, 43.5, 43, 43, 44, 45, 46, 47, 48, 49, 50, 51.5, 52.5, 53, 54, 53.5, 53.5],
    [62, 64, 63, 62, 63, 65, 66, 66, 64, 62, 66, 70, 72, 71, 69, 68, 68, 67,
     67, 66.5, 67, 67, 67, 66, 65, 63, 60, 54] + [48] * 8 + [1],
)

cd_probs = [cd_red, cd_green, cd_blue, cd_orange, cd_purple, cd_cyan, cd_magenta, cd_lime, cd_pink]
th_probs = [th_red, th_green, th_blue, th_orange, th_purple, th_cyan, th_magenta, th_lime, th_pink]
for s in cd_probs + th_probs + [truth_cd, truth_th, pred_cd, pred_th, hi_cd, lo_cd, hi_th, lo_th]:
    assert len(s) == len(times), len(s)


def with_breaks(vals):
    """hold the last value of a round up to the next round start, so the reset is vertical"""
    xs, ys = [], []
    for t, v in zip(times, vals):
        if t in round_starts[1:] and ys:
            xs.append(t)
            ys.append(ys[-1])
        xs.append(t)
        ys.append(v)
    return pd.DataFrame({'t': xs, 'v': ys})


def add_rounds(ax, y_frac):
    trans = mtransforms.blended_transform_factory(ax.transData, ax.transAxes)
    for i, rs in enumerate(round_starts):
        ax.axvline(rs, color='gray', ls=':', lw=0.8, alpha=0.9, zorder=1)
        ax.text(rs + 3, y_frac, f"R{i + 1}", transform=trans, fontsize=8,
                color='dimgray', alpha=0.9, va='top', ha='left')


def draw_probs(ax, probs, name):
    for lab, col, vals in zip(bin_labels, bin_colors, probs):
        df = with_breaks(vals)
        ls = '--' if lab == '0.0-9.5' else '-'
        sns.lineplot(data=df, x='t', y='v', ax=ax, color=col, lw=1.0, alpha=0.85,
                     linestyle=ls, estimator=None, sort=False)
    ax.set_ylim(0, 1.05)
    ax.set_yticks(np.arange(0, 1.051, 0.05))
    ax.set_ylabel('Prob', fontsize=8)
    ax.set_xlabel('')
    ax.set_title(f"{name} \u2014 Total Strikes Attempted R10 Full Fight (Event 16309)", fontsize=10.25)
    ax.grid(axis='y', color='#e3e3e3', lw=0.8)
    ax.set_axisbelow(True)
    add_rounds(ax, 0.975)
    handles = [Line2D([], [], color=c, lw=1.0, alpha=0.85) for c in bin_colors]
    ax.legend(handles, bin_labels, loc='upper right', ncol=4, fontsize=6)


fig = plt.figure(figsize=(14, 10), dpi=150)
gs = fig.add_gridspec(3, 1, height_ratios=[3, 3, 2])
ax1 = fig.add_subplot(gs[0])
ax2 = fig.add_subplot(gs[1], sharex=ax1)
ax3 = fig.add_subplot(gs[2], sharex=ax1)
fig.subplots_adjust(left=0.045, right=0.989, top=0.965, bottom=0.055, hspace=0.14)

draw_probs(ax1, cd_probs, 'CAROLINE DUBOIS')
draw_probs(ax2, th_probs, 'TERRI HARPER')

# bottom: truth vs predicted counts
band_cd_lo, band_cd_hi = with_breaks(lo_cd), with_breaks(hi_cd)
band_th_lo, band_th_hi = with_breaks(lo_th), with_breaks(hi_th)
ax3.fill_between(band_cd_lo['t'], band_cd_lo['v'], band_cd_hi['v'], color='red', alpha=0.15, lw=0.8)
ax3.fill_between(band_th_lo['t'], band_th_lo['v'], band_th_hi['v'], color='blue', alpha=0.15, lw=0.8)

count_lines = [
    (truth_cd, 'red', '-', 1.7, 0.75, 'Truth CAROLINE DUBOIS: 45'),
    (truth_th, 'blue', '-', 1.7, 0.75, 'Truth TERRI HARPER: 48'),
    (pred_cd, 'red', ':', 1.5, 0.6, 'Predicted CAROLINE DUBOIS: 66.9'),
    (pred_th, 'blue', ':', 1.5, 0.6, 'Predicted TERRI HARPER: 70.1'),
]
for vals, col, ls, lw, a, lab in count_lines:
    sns.lineplot(data=with_breaks(vals), x='t', y='v', ax=ax3, color=col, linestyle=ls,
                 lw=lw, alpha=a, estimator=None, sort=False, label=lab)

ax3.set_ylabel('Count', fontsize=8)
ax3.set_xlabel('Fight time (seconds)', fontsize=10)
ax3.yaxis.set_major_locator(MultipleLocator(20))
ax3.yaxis.set_minor_locator(MultipleLocator(5))
ax3.tick_params(axis='y', which='minor', length=0)
ax3.grid(axis='y', which='major', color='#d6d6d6', lw=0.8)
ax3.grid(axis='y', which='minor', color='#e8e8e8', lw=0.8)
ax3.set_axisbelow(True)
add_rounds(ax3, 0.97)
ax3.legend(loc='upper left', fontsize=7)

for ax in (ax1, ax2, ax3):
    ax.tick_params(labelsize=7)
plt.setp(ax1.get_xticklabels(), visible=False)
plt.setp(ax2.get_xticklabels(), visible=False)

fig.savefig('out.png', dpi=150)
